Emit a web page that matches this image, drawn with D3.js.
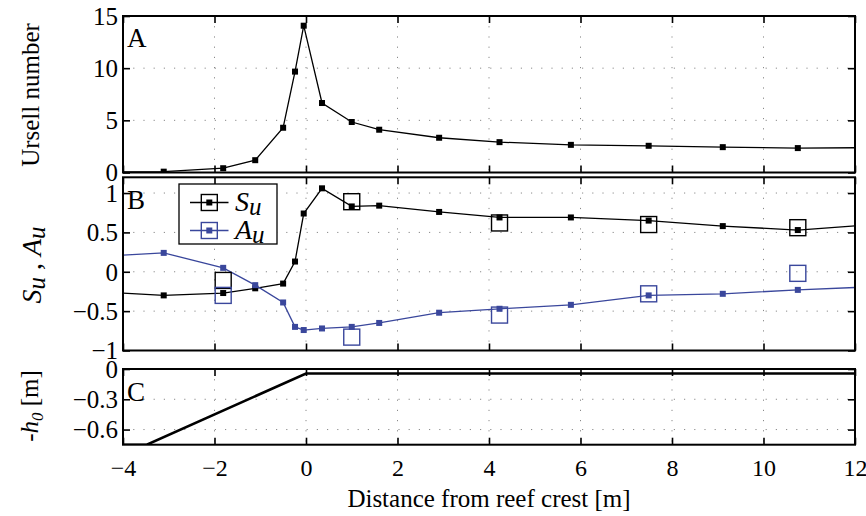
<!DOCTYPE html>
<html>
<head>
<meta charset="utf-8">
<script src="https://cdn.jsdelivr.net/npm/d3@7"></script>
<style>
  html, body { margin: 0; padding: 0; background: #fff; }
  svg { display: block; }
  svg text { font-family: "Liberation Serif", "Times New Roman", serif; }
</style>
</head>
<body>
<svg id="chart" width="866" height="516"></svg>
<script>
// Gauge positions along the flume (m from reef crest); the outer two sit just beyond the plotted range
const gaugeX   = [-4.4, -3.11, -1.81, -1.11, -0.50, -0.24, -0.05, 0.35, 1.0, 1.6, 2.91, 4.23, 5.79, 7.49, 9.11, 10.75, 12.4];
// Ursell number at each gauge
const ursell   = [0.05, 0.08, 0.41, 1.18, 4.29, 9.67, 14.07, 6.66, 4.84, 4.1, 3.33, 2.91, 2.65, 2.56, 2.43, 2.34, 2.38];
// Velocity skewness and asymmetry
const skewU    = [-0.26, -0.30, -0.27, -0.21, -0.15, 0.13, 0.74, 1.06, 0.83, 0.84, 0.76, 0.69, 0.69, 0.65, 0.58, 0.53, 0.60];
const asymU    = [0.20, 0.24, 0.05, -0.17, -0.39, -0.70, -0.74, -0.72, -0.70, -0.65, -0.52, -0.47, -0.42, -0.30, -0.28, -0.23, -0.19];
// Second set of skewness / asymmetry values (open squares)
const obsX     = [-1.81, 1.0, 4.23, 7.49, 10.75];
const skewObs  = [-0.11, 0.89, 0.62, 0.60, 0.56];
const asymObs  = [-0.30, -0.83, -0.55, -0.28, -0.02];
// Reef profile (still-water depth, negative down)
const profileX = [-4.5, -3.48, 0, 12.5];
const profileZ = [-0.75, -0.75, -0.045, -0.045];
// Tick values
const xTicks   = [-4, -2, 0, 2, 4, 6, 8, 10, 12];
const yTicksA  = [0, 5, 10, 15];
const yTicksB  = [-1, -0.5, 0, 0.5, 1];
const yTicksC  = [-0.6, -0.3, 0];
// Legend entries
const legendNames = ["S", "A"];

const serif = "Liberation Serif, Times New Roman, serif";
const svg = d3.select("#chart");
const blue = "#3a479c";
const left = 123, right = 855;
const x = d3.scaleLinear().domain([-4, 12]).range([left, right]);

const panels = [
  { key: "A", top: 16,    bottom: 172.5, domain: [0, 15],     ticks: yTicksA },
  { key: "B", top: 177.3, bottom: 350.5, domain: [-1, 1.2],   ticks: yTicksB },
  { key: "C", top: 369,   bottom: 444.7, domain: [-0.75, 0],  ticks: yTicksC }
];

const fmt = v => (v < 0 ? "\u2212" : "") + String(Math.abs(v));
const tick = 7;

function styleAxis(sel, size) {
  sel.attr("font-family", serif).attr("font-size", size);
  sel.select(".domain").remove();
  sel.selectAll(".tick line").attr("stroke", "#000").attr("stroke-width", 1.6);
  sel.selectAll(".tick text").attr("fill", "#000").attr("font-family", serif);
}

panels.forEach(p => {
  p.y = d3.scaleLinear().domain(p.domain).range([p.bottom, p.top]);
  const g = svg.append("g").attr("class", "panel-" + p.key);
  p.g = g;

  // clip region for the data
  svg.append("clipPath").attr("id", "clip" + p.key)
    .append("rect").attr("x", left).attr("y", p.top)
    .attr("width", right - left).attr("height", p.bottom - p.top);

  // dotted grid
  const grid = g.append("g").attr("stroke", "#8a8a8a").attr("stroke-width", 1)
    .attr("stroke-dasharray", "1.2,9");
  grid.selectAll("line.gx").data(xTicks.slice(1, -1)).join("line")
    .attr("x1", d => x(d)).attr("x2", d => x(d))
    .attr("y1", p.top).attr("y2", p.bottom);
  grid.selectAll("line.gy").data(p.ticks.filter(t => p.y(t) > p.top + 1 && p.y(t) < p.bottom - 1)).join("line")
    .attr("x1", left).attr("x2", right)
    .attr("y1", d => p.y(d)).attr("y2", d => p.y(d));

  // inward ticks on all four sides
  const bottomAxis = g.append("g").attr("transform", `translate(0,${p.bottom})`)
    .call(d3.axisBottom(x).tickValues(xTicks).tickSize(-tick)
      .tickFormat(p.key === "C" ? fmt : ""));
  styleAxis(bottomAxis, 24);
  if (p.key === "C") bottomAxis.selectAll(".tick text").attr("y", 31).attr("dy", 0);

  const topAxis = g.append("g").attr("transform", `translate(0,${p.top})`)
    .call(d3.axisTop(x).tickValues(xTicks).tickSize(-tick).tickFormat(""));
  styleAxis(topAxis, 24);

  const leftAxis = g.append("g").attr("transform", `translate(${left},0)`)
    .call(d3.axisLeft(p.y).tickValues(p.ticks).tickSize(-tick).tickFormat(fmt));
  styleAxis(leftAxis, 25);
  leftAxis.selectAll(".tick text").attr("x", -5).attr("dy", "0.33em");

  const rightAxis = g.append("g").attr("transform", `translate(${right},0)`)
    .call(d3.axisRight(p.y).tickValues(p.ticks).tickSize(-tick).tickFormat(""));
  styleAxis(rightAxis, 25);
});

// ---- Panel A: Ursell number ----
const pA = panels[0];
const gA = pA.g.append("g").attr("clip-path", "url(#clipA)");
const ptsA = gaugeX.map((d, i) => [d, ursell[i]]);
gA.append("path").datum(ptsA)
  .attr("fill", "none").attr("stroke", "#000").attr("stroke-width", 1.3)
  .attr("d", d3.line().x(d => x(d[0])).y(d => pA.y(d[1])));
gA.selectAll("rect.m").data(ptsA).join("rect")
  .attr("x", d => x(d[0]) - 3).attr("y", d => pA.y(d[1]) - 3)
  .attr("width", 6).attr("height", 6).attr("fill", "#000");

// ---- Panel B: skewness and asymmetry ----
const pB = panels[1];
const gB = pB.g.append("g").attr("clip-path", "url(#clipB)");
const lineB = d3.line().x(d => x(d[0])).y(d => pB.y(d[1]));
[[skewU, "#000"], [asymU, blue]].forEach(([vals, col]) => {
  const pts = gaugeX.map((d, i) => [d, vals[i]]);
  gB.append("path").datum(pts).attr("fill", "none").attr("stroke", col)
    .attr("stroke-width", 1.3).attr("d", lineB);
  gB.selectAll(null).data(pts).join("rect")
    .attr("x", d => x(d[0]) - 3).attr("y", d => pB.y(d[1]) - 3)
    .attr("width", 6).attr("height", 6).attr("fill", col);
});
[[skewObs, "#000"], [asymObs, blue]].forEach(([vals, col]) => {
  gB.selectAll(null).data(obsX.map((d, i) => [d, vals[i]])).join("rect")
    .attr("x", d => x(d[0]) - 8).attr("y", d => pB.y(d[1]) - 8)
    .attr("width", 16).attr("height", 16)
    .attr("fill", "none").attr("stroke", col).attr("stroke-width", 1.4);
});

// legend
const lg = pB.g.append("g");
lg.append("rect").attr("x", 179).attr("y", 184).attr("width", 98).attr("height", 60)
  .attr("fill", "#fff").attr("stroke", "#000").attr("stroke-width", 1.3);
[[legendNames[0], "#000", 202.5], [legendNames[1], blue, 230.5]].forEach(([sym, col, yy]) => {
  lg.append("line").attr("x1", 190).attr("x2", 228.5).attr("y1", yy).attr("y2", yy)
    .attr("stroke", col).attr("stroke-width", 1.3);
  lg.append("rect").attr("x", 209.3 - 8).attr("y", yy - 8).attr("width", 16).attr("height", 16)
    .attr("fill", "none").attr("stroke", col).attr("stroke-width", 1.4);
  lg.append("rect").attr("x", 209.3 - 3).attr("y", yy - 3).attr("width", 6).attr("height", 6)
    .attr("fill", col);
  const t = lg.append("text").attr("x", 235).attr("y", yy + 8)
    .attr("font-size", 28).attr("font-style", "italic").attr("fill", "#000");
  t.append("tspan").text(sym);
  t.append("tspan").attr("dy", 4).attr("font-size", 25).text("u");
});

// ---- Panel C: reef profile ----
const pC = panels[2];
const gC = pC.g.append("g").attr("clip-path", "url(#clipC)");
gC.append("path").datum(profileX.map((d, i) => [d, profileZ[i]]))
  .attr("fill", "none").attr("stroke", "#000").attr("stroke-width", 2.6)
  .attr("d", d3.line().x(d => x(d[0])).y(d => pC.y(d[1])));

// frames and panel letters
panels.forEach(p => {
  p.g.append("rect").attr("x", left).attr("y", p.top)
    .attr("width", right - left).attr("height", p.bottom - p.top)
    .attr("fill", "none").attr("stroke", "#000").attr("stroke-width", 2);
});
[["A", 47], ["B", 209], ["C", 401]].forEach(([k, yy]) => {
  svg.append("text").attr("x", 127).attr("y", yy).text(k)
    .attr("font-size", 27).attr("fill", "#000");
});

// axis titles
svg.append("text").attr("transform", "translate(39,95) rotate(-90)")
  .attr("text-anchor", "middle").attr("font-size", 25).text("Ursell number");

const tB = svg.append("text").attr("transform", "translate(41,265) rotate(-90)")
  .attr("text-anchor", "middle").attr("font-size", 28).attr("font-style", "italic");
tB.append("tspan").text("S");
tB.append("tspan").attr("dy", 4).attr("font-size", 25).text("u");
tB.append("tspan").attr("dy", -4).attr("font-style", "normal").text(" , ");
tB.append("tspan").text("A");
tB.append("tspan").attr("dy", 4).attr("font-size", 25).text("u");

const tC = svg.append("text").attr("transform", "translate(38,406) rotate(-90)")
  .attr("text-anchor", "middle").attr("font-size", 25);
tC.append("tspan").text("-");
tC.append("tspan").attr("font-style", "italic").text("h");
tC.append("tspan").attr("dy", 5).attr("font-size", 17).attr("font-style", "italic").text("0");
tC.append("tspan").attr("dy", -5).text(" [m]");

svg.append("text").attr("x", (left + right) / 2).attr("y", 507)
  .attr("text-anchor", "middle").attr("font-size", 25)
  .text("Distance from reef crest [m]");
</script>
</body>
</html>
